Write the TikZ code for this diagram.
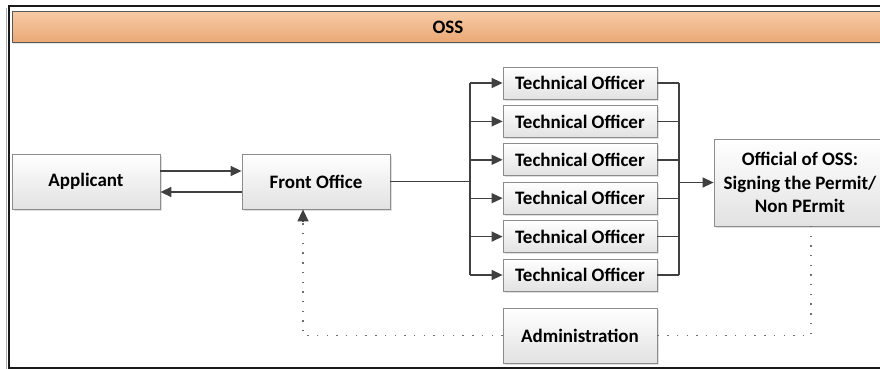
\documentclass[tikz,border=0pt]{standalone}
\usepackage{fontspec}
\setmainfont{Carlito}
\usetikzlibrary{arrows.meta,shadows}

\definecolor{lineGray}{HTML}{404040}
\definecolor{dotGray}{HTML}{6E6E6E}
\definecolor{boxGray}{HTML}{8C8C8C}
\definecolor{boxBottom}{HTML}{E2E2E2}
\definecolor{headTop}{HTML}{F6CAA6}
\definecolor{headBottom}{HTML}{EBA874}

\begin{document}
\begin{tikzpicture}[x=1pt, y=-1pt,
    box/.style={draw=boxGray, line width=0.8pt, top color=white, bottom color=boxBottom,
        drop shadow={shadow xshift=1.5pt, shadow yshift=-1.5pt, fill=black!25},
        font=\bfseries\fontsize{19}{23.5}\selectfont, align=center, inner sep=0pt},
    wire/.style={draw=lineGray, line width=1.4pt},
    link/.style={wire, -{Triangle[length=11pt, width=10pt]}},
    dots/.style={draw=dotGray, line width=1.4pt, dash pattern=on 1.4pt off 8.3pt}
]

    % 範囲の固定
    \useasboundingbox (0,0) rectangle (880,369);
    \clip (0,0) rectangle (880,369);

    % 外枠
    \draw [black!30, line width=1.5pt] (6.5,8) -- (6.5,369);
    \draw [black!90, line width=2pt] (890,6) -| (8.5,368) -- (890,368);

    % 見出し
    \node [draw=black!65, line width=0.8pt, top color=headTop, bottom color=headBottom,
        drop shadow={shadow xshift=1pt, shadow yshift=-1.5pt, fill=black!20},
        minimum width=872pt, minimum height=31pt, inner sep=0pt,
        font=\bfseries\fontsize{19}{23}\selectfont] (oss) at (448,27) {OSS};

    % 箱の配置
    \node [box, minimum width=148pt, minimum height=55pt] (app) at (86,181.5) {Applicant};
    \node [box, minimum width=148pt, minimum height=55pt] (front) at (316,181.5) {Front Office};
    \foreach \i in {1,...,6}
        \node [box, minimum width=154pt, minimum height=32pt] (to\i) at (580,{83+38.4*(\i-1)}) {Technical Officer};
    \node [box, minimum width=172pt, minimum height=87pt] (official) at (800,182.5)
        {Official of OSS:\\ Signing the Permit/\\ Non PErmit};
    \node [box, minimum width=154pt, minimum height=55pt] (admin) at (580,335.5) {Administration};

    % 分岐点
    \coordinate (split) at (470,181.5);
    \coordinate (merge) at (679,182.5);

    % 矢印の描画
    \draw [link] ([yshift=10.5pt]app.east) -- ([yshift=10.5pt]front.west);
    \draw [link] ([yshift=-10.5pt]front.west) -- ([yshift=-10.5pt]app.east);

    \draw [wire] (front.east) -- (split);
    \draw [wire] (split |- to1) -- (split |- to6);
    \draw [wire] (merge |- to1) -- (merge |- to6);
    \foreach \i in {1,...,6} {
        \draw [link] (split |- to\i) -- (to\i.west);
        \draw [wire] (to\i.east) -- (merge |- to\i);
    }
    \draw [link] (merge) -- (official.west);

    % 点線
    \draw [dots] (admin.west) -| ([xshift=-13pt, yshift=-12pt]front.south);
    \draw [lineGray, line width=1.4pt, -{Triangle[length=12pt, width=11pt]}]
        ([xshift=-13pt, yshift=-12pt]front.south) -- ([xshift=-13pt]front.south);
    \draw [dots] (admin.east) -| ([xshift=11pt]official.south);

\end{tikzpicture}
\end{document}
